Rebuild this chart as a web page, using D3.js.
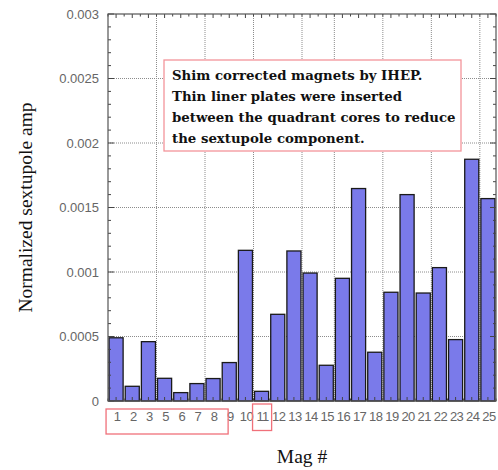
<!DOCTYPE html>
<html lang="en">
<head>
<meta charset="UTF-8">
<title>Sextupole amp</title>
<style>
  body { margin: 0; background: #fff; }
</style>
</head>
<body>
<svg id="chart" width="498" height="470"></svg>
<script src="https://d3js.org/d3.v7.min.js"></script>
<script>
// data (magnet 4 is absent)
const mags = ["1","2","3","5","6","7","8","9","10","11","12","13","14","15","16","17","18","19","20","21","22","23","24","25"];
const sextupole = [0.00049, 0.000114, 0.00046, 0.000176, 0.000065, 0.000135, 0.000174, 0.000298,
                   0.001168, 0.000075, 0.000672, 0.001163, 0.000992, 0.000277, 0.000951, 0.001647,
                   0.000378, 0.000843, 0.0016, 0.000837, 0.001034, 0.000476, 0.001874, 0.001569];
const yTicks = [0, 0.0005, 0.001, 0.0015, 0.002, 0.0025, 0.003];
const yTickLabels = ["0", "0.0005", "0.001", "0.0015", "0.002", "0.0025", "0.003"];
const vGridSlots = [3, 6, 9, 12, 14, 17, 20, 23];
const note = ["Shim corrected magnets by IHEP.",
              "Thin liner plates were inserted",
              "between the quadrant cores to reduce",
              "the sextupole component."];
const boxedGroups = [["1", "8"], ["11", "11"]];

const svg = d3.select("#chart");
const pLeft = 108, pRight = 496, pTop = 14, pBottom = 401;

const x = d3.scaleBand().domain(mags).range([pLeft, pRight]).paddingInner(0.13).paddingOuter(0.065);
const slot = d3.scaleLinear().domain([0, mags.length]).range([pLeft, pRight]);
const y = d3.scaleLinear().domain([0, 0.003]).range([pBottom, pTop]);

// grid
svg.append("g").selectAll("line").data(yTicks.slice(1, -1)).join("line")
    .attr("x1", pLeft).attr("x2", pRight)
    .attr("y1", d => y(d)).attr("y2", d => y(d))
    .attr("stroke", "#8c8c8c").attr("stroke-dasharray", "1,1");
svg.append("g").selectAll("line").data(vGridSlots).join("line")
    .attr("x1", d => slot(d)).attr("x2", d => slot(d))
    .attr("y1", pTop).attr("y2", pBottom)
    .attr("stroke", "#8c8c8c").attr("stroke-dasharray", "1,1");

// bars
svg.append("g").selectAll("rect").data(mags).join("rect")
    .attr("x", d => x(d))
    .attr("y", (d, i) => y(sextupole[i]))
    .attr("width", x.bandwidth())
    .attr("height", (d, i) => pBottom - y(sextupole[i]))
    .attr("fill", "#7a7aea")
    .attr("stroke", "#1a1a1a")
    .attr("stroke-width", 1.3);

// frame ticks
const frame = svg.append("g").attr("stroke", "#444").attr("stroke-width", 1);
const minorY = d3.range(0, 31).map(k => k * 0.0001);
minorY.forEach((v, k) => {
  const len = k % 5 === 0 ? 6 : 3;
  frame.append("line").attr("x1", pLeft).attr("x2", pLeft + len).attr("y1", y(v)).attr("y2", y(v));
  frame.append("line").attr("x1", pRight).attr("x2", pRight - len).attr("y1", y(v)).attr("y2", y(v));
});
d3.range(0, mags.length * 2 + 1).forEach(k => {
  const xx = slot(k / 2);
  const len = k % 2 === 1 ? 4 : 2.5;
  frame.append("line").attr("x1", xx).attr("x2", xx).attr("y1", pTop).attr("y2", pTop + len);
  frame.append("line").attr("x1", xx).attr("x2", xx).attr("y1", pBottom).attr("y2", pBottom - len);
});
svg.append("rect").attr("x", pLeft).attr("y", pTop)
    .attr("width", pRight - pLeft).attr("height", pBottom - pTop)
    .attr("fill", "none").attr("stroke", "#555").attr("stroke-width", 1.2);

// tick labels
svg.append("g").selectAll("text").data(yTicks).join("text")
    .attr("x", 99).attr("y", d => y(d) + 4.5)
    .attr("text-anchor", "end")
    .attr("font-family", "Liberation Sans, Arial, sans-serif")
    .attr("font-size", 13).attr("fill", "#666")
    .text((d, i) => yTickLabels[i]);
svg.append("g").selectAll("text").data(mags).join("text")
    .attr("x", d => x(d) + x.bandwidth() / 2 + 1)
    .attr("y", 421)
    .attr("text-anchor", "middle")
    .attr("font-family", "Liberation Sans, Arial, sans-serif")
    .attr("font-size", 13).attr("fill", "#666")
    .attr("letter-spacing", -0.6)
    .text(d => d);

// axis titles
svg.append("text")
    .attr("transform", `translate(32,${(pTop + pBottom) / 2}) rotate(-90)`)
    .attr("text-anchor", "middle")
    .attr("font-family", "Liberation Serif, Times New Roman, serif")
    .attr("font-size", 19.5).attr("fill", "#111")
    .text("Normalized sextupole amp");
svg.append("text")
    .attr("x", (pLeft + pRight) / 2).attr("y", 463)
    .attr("text-anchor", "middle")
    .attr("font-family", "Liberation Serif, Times New Roman, serif")
    .attr("font-size", 19.5).attr("fill", "#111")
    .text("Mag #");

// red boxes round label groups
boxedGroups.forEach(([a, b], gi) => {
  const x0 = x(a) - 3, x1 = x(b) + x.bandwidth() + (gi === 0 ? 8 : 2);
  svg.append("rect")
    .attr("x", gi === 0 ? x(a) - 3 : x(a) - 2)
    .attr("y", gi === 0 ? 409 : 404)
    .attr("width", x1 - x0)
    .attr("height", gi === 0 ? 25 : 26.5)
    .attr("fill", "none").attr("stroke", "#f0707a").attr("stroke-width", 1.3);
});

// annotation box
svg.append("rect").attr("x", 164).attr("y", 60).attr("width", 297).attr("height", 91)
    .attr("fill", "#fff").attr("stroke", "#f3949a").attr("stroke-width", 1.3);
svg.append("g").selectAll("text").data(note).join("text")
    .attr("x", 172).attr("y", (d, i) => 79.5 + i * 21.3)
    .attr("font-family", "DejaVu Serif, serif")
    .attr("font-weight", "bold")
    .attr("font-size", 13.3).attr("fill", "#111")
    .text(d => d);
</script>
</body>
</html>
